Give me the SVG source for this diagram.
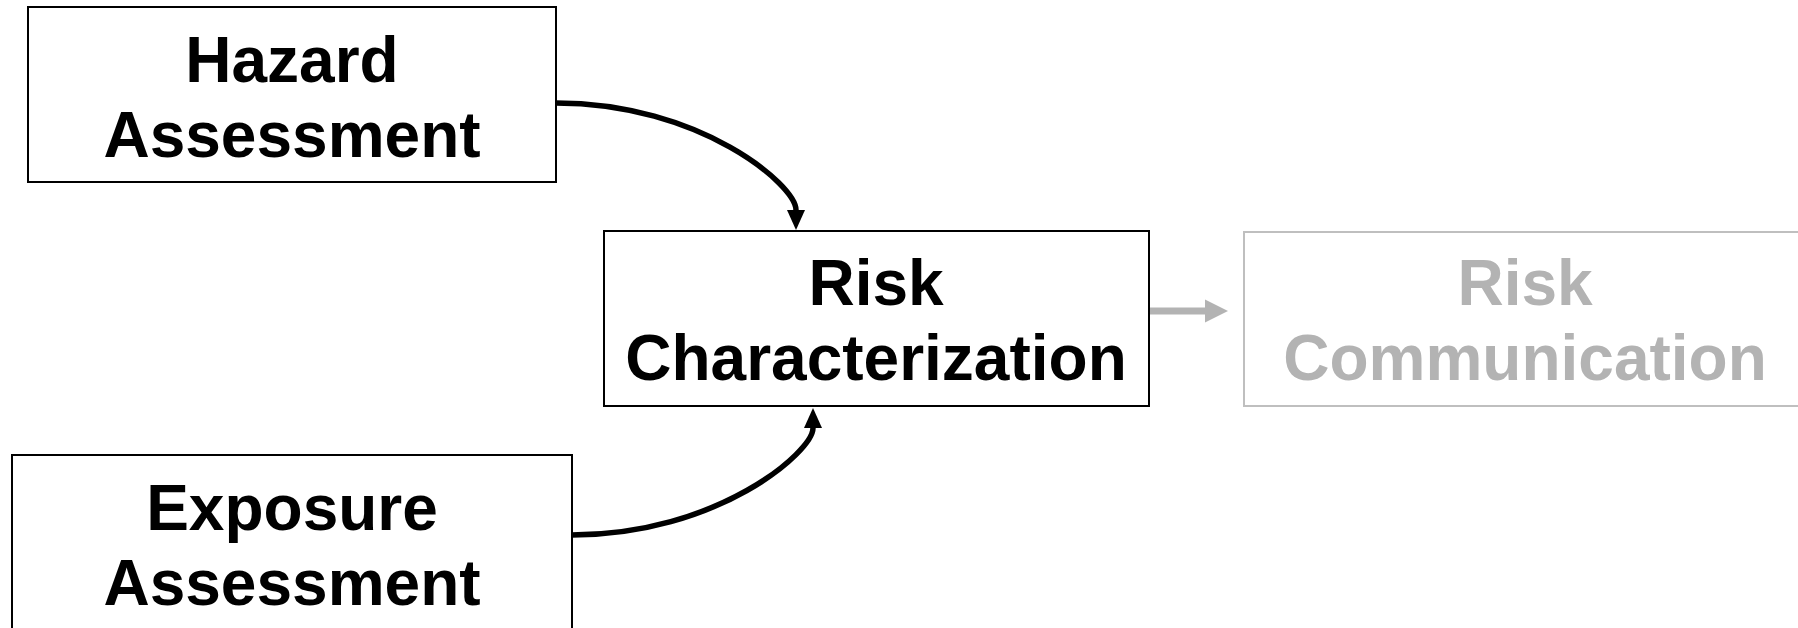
<svg xmlns="http://www.w3.org/2000/svg" width="1798" height="628" viewBox="0 0 1798 628">
  <style>
    .box { fill: #ffffff; stroke: #000000; stroke-width: 2; }
    .box-muted { fill: #ffffff; stroke: #bfbfbf; stroke-width: 2; }
    .label { font-family: "Liberation Sans", Arial, sans-serif; font-weight: bold; font-size: 64px; text-anchor: middle; fill: #000000; }
    .label-muted { fill: #b3b3b3; }
    .flow { fill: none; stroke: #000000; stroke-width: 5.5; }
    .flow-muted { fill: none; stroke: #b3b3b3; stroke-width: 7; }
  </style>
  <defs>
    <marker id="arrow" markerUnits="userSpaceOnUse" markerWidth="22" markerHeight="20" refX="0" refY="10" orient="auto">
      <path d="M0,1 L20,10 L0,19 Z" fill="#000000"/>
    </marker>
    <marker id="arrow-muted" markerUnits="userSpaceOnUse" markerWidth="24" markerHeight="24" refX="0" refY="12" orient="auto">
      <path d="M0,0.5 L23,12 L0,23.5 Z" fill="#b3b3b3"/>
    </marker>
  </defs>

  <rect width="1798" height="628" fill="#ffffff"/>

  <g id="connectors">
    <path class="flow" d="M556,103 C700,103 796,185 796,210" marker-end="url(#arrow)"/>
    <path class="flow" d="M572,535 C717,535 813,452 813,428" marker-end="url(#arrow)"/>
    <path class="flow-muted" d="M1150,311 L1205,311" marker-end="url(#arrow-muted)"/>
  </g>

  <g id="hazard-assessment">
    <rect class="box" x="28" y="7" width="528" height="175"/>
    <text class="label" x="292" y="82">Hazard</text>
    <text class="label" x="292" y="157">Assessment</text>
  </g>

  <g id="exposure-assessment">
    <rect class="box" x="12" y="455" width="560" height="176"/>
    <text class="label" x="292" y="530">Exposure</text>
    <text class="label" x="292" y="605">Assessment</text>
  </g>

  <g id="risk-characterization">
    <rect class="box" x="604" y="231" width="545" height="175"/>
    <text class="label" x="876" y="305">Risk</text>
    <text class="label" x="876" y="380">Characterization</text>
  </g>

  <g id="risk-communication">
    <rect class="box-muted" x="1244" y="232" width="562" height="174"/>
    <text class="label label-muted" x="1525" y="305">Risk</text>
    <text class="label label-muted" x="1525" y="380">Communication</text>
  </g>
</svg>
